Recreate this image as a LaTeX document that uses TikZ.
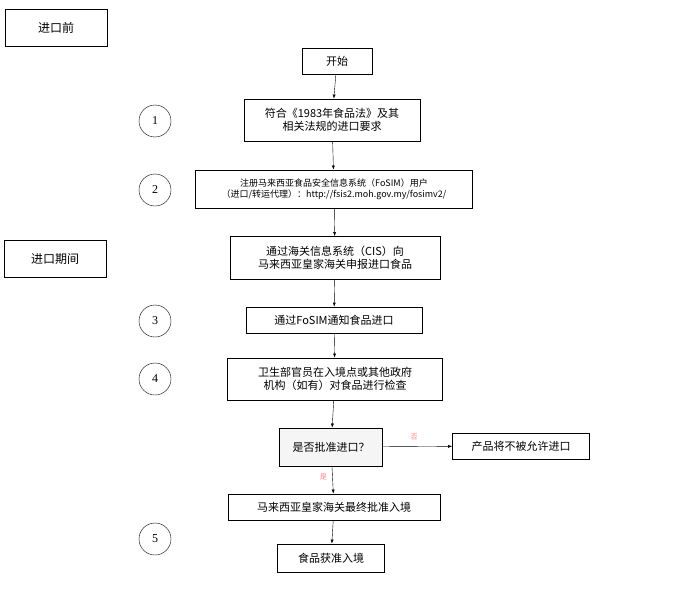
\documentclass[tikz,border=0pt]{standalone}
\usepackage{fontspec}
\setmainfont{Liberation Serif}
\newfontfamily\cjk{Noto Sans CJK SC}
\usetikzlibrary{arrows.meta}
\tikzset{
  stage/.style={draw, thick, fill=white, align=center, font=\cjk\fontsize{11}{13}\selectfont, inner sep=3pt},
  phase/.style={draw, minimum width=102pt, minimum height=37pt, font=\cjk\fontsize{12}{14}\selectfont},
  num/.style={draw, circle, minimum size=32pt, inner sep=0pt, font=\fontsize{12}{14}\selectfont},
  flow/.style={-{Latex[length=4pt,width=3pt]}},
  answer/.style={font=\cjk\fontsize{7}{8}\selectfont, text=red!50}
}
\begin{document}
\begin{tikzpicture}[x=1pt,y=-1pt]
\useasboundingbox (0,0) rectangle (692,591);
% phases
\node[phase] (before) at (56,28) {进口前};
\node[phase] (during) at (55,259) {进口期间};
% stages
\node[stage, minimum width=70pt, minimum height=26pt] (start) at (337,61) {开始};
\node[stage, minimum width=176pt, minimum height=42pt] (law) at (332,120) {符合《1983年食品法》及其\\相关法规的进口要求};
\node[stage, minimum width=277pt, minimum height=38pt, font=\cjk\fontsize{9}{11}\selectfont] (reg) at (334,189) {注册马来西亚食品安全信息系统（FoSIM）用户\\（进口/转运代理）：http://fsis2.moh.gov.my/fosimv2/};
\node[stage, minimum width=210pt, minimum height=43pt] (cis) at (335,258) {通过海关信息系统（CIS）向\\马来西亚皇家海关申报进口食品};
\node[stage, minimum width=176pt, minimum height=26pt] (notify) at (334,320) {通过FoSIM通知食品进口};
\node[stage, minimum width=215pt, minimum height=42pt] (check) at (335,379) {卫生部官员在入境点或其他政府\\机构（如有）对食品进行检查};
\node[stage, fill=gray!8, minimum width=103pt, minimum height=38pt] (ok) at (331,447) {是否批准进口？};
\node[stage, minimum width=137pt, minimum height=26pt] (deny) at (521,446) {产品将不被允许进口};
\node[stage, minimum width=212pt, minimum height=26pt] (final) at (334,507) {马来西亚皇家海关最终批准入境};
\node[stage, minimum width=107pt, minimum height=28pt] (enter) at (331,558) {食品获准入境};
% numbers
\node[num] (n1) at (155,121) {1};
\node[num] (n2) at (155,190) {2};
\node[num] (n3) at (155,321) {3};
\node[num] (n4) at (155,379) {4};
\node[num] (n5) at (155,539) {5};
% connectors
\draw[flow] (start) -- (law);
\draw[flow] (law) -- (reg);
\draw[flow] (reg) -- (cis);
\draw[flow] (cis) -- (notify);
\draw[flow] (notify) -- (check);
\draw[flow] (check) -- (ok);
\draw[flow] (ok) -- node[answer, above=3pt, pos=0.45] {否} (deny);
\draw[flow] (ok) -- node[answer, left=2pt, pos=0.4] {是} (final);
\draw[flow] (final) -- (enter);
\end{tikzpicture}
\end{document}
